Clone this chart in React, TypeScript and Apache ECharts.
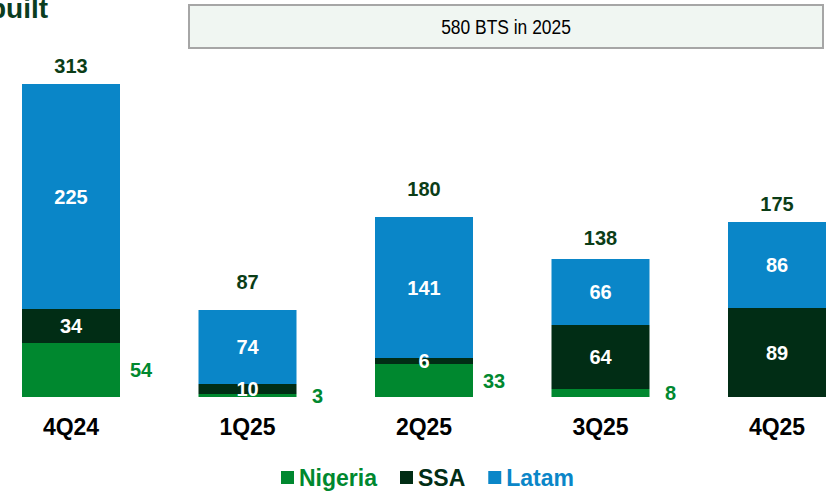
import React, { useEffect, useRef } from "react";
import * as echarts from "echarts";

const categories = ["4Q24", "1Q25", "2Q25", "3Q25", "4Q25"];
const nigeria = [54, 3, 33, 8, 0];
const ssa = [34, 10, 6, 64, 89];
const latam = [225, 74, 141, 66, 86];
const totals = [313, 87, 180, 138, 175];
const boxText = "580 BTS in 2025";
const titleText = "built";

// extra lift (px) of each total label above its bar, as placed in the reference
const totalLabelLift = [0, 10, 10, 3, 0];

const C_NIG = "#00882f";
const C_SSA = "#012d15";
const C_LAT = "#0a86c8";
const C_TOT = "#0b3d17";
const FONT = "'Liberation Sans', Arial, sans-serif";

export default function App() {
  const ref = useRef<HTMLDivElement>(null);
  useEffect(() => {
    if (!ref.current) return;
    const chart = echarts.init(ref.current, undefined, { renderer: "svg" });
    const BW = 98;
    const legendItem = (name: string, color: string) => ({
      name,
      textStyle: { color },
    });
    chart.setOption({
      animation: false,
      backgroundColor: "#ffffff",
      textStyle: { fontFamily: FONT },
      grid: { left: 71, right: 49, top: 57, bottom: 96 },
      xAxis: {
        type: "category",
        data: categories,
        boundaryGap: false,
        axisLine: { show: false },
        axisTick: { show: false },
        axisLabel: {
          margin: 18,
          fontSize: 23,
          fontWeight: "bold",
          color: "#000",
          fontFamily: FONT,
        },
      },
      yAxis: {
        type: "value",
        min: 0,
        max: 340,
        show: false,
        splitLine: { show: false },
      },
      legend: {
        top: 461,
        left: 276,
        itemWidth: 13,
        itemHeight: 13,
        itemGap: 23,
        icon: "rect",
        data: [
          legendItem("Nigeria", C_NIG),
          legendItem("SSA", C_SSA),
          legendItem("Latam", C_LAT),
        ],
        textStyle: {
          fontSize: 23,
          fontWeight: "bold",
          fontFamily: FONT,
        },
      },
      series: [
        {
          name: "Nigeria",
          type: "bar",
          stack: "s",
          barWidth: BW,
          data: nigeria,
          itemStyle: { color: C_NIG },
          label: {
            show: true,
            position: "right",
            distance: 21,
            align: "center",
            color: C_NIG,
            fontSize: 20,
            fontWeight: "bold",
            fontFamily: FONT,
            formatter: (p: any) => (p.value ? String(p.value) : ""),
          },
        },
        {
          name: "SSA",
          type: "bar",
          stack: "s",
          barWidth: BW,
          data: ssa,
          itemStyle: { color: C_SSA },
          label: {
            show: true,
            position: "inside",
            color: "#fff",
            fontSize: 20,
            fontWeight: "bold",
            fontFamily: FONT,
          },
        },
        {
          name: "Latam",
          type: "bar",
          stack: "s",
          barWidth: BW,
          data: latam,
          itemStyle: { color: C_LAT },
          label: {
            show: true,
            position: "inside",
            color: "#fff",
            fontSize: 20,
            fontWeight: "bold",
            fontFamily: FONT,
          },
        },
        {
          name: "Total",
          type: "bar",
          barWidth: BW,
          barGap: "-100%",
          data: totals.map((v, i) => ({
            value: v,
            label: { distance: 8 + totalLabelLift[i] },
          })),
          silent: true,
          itemStyle: { color: "rgba(0,0,0,0)" },
          label: {
            show: true,
            position: "top",
            distance: 8,
            color: C_TOT,
            fontSize: 20,
            fontWeight: "bold",
            fontFamily: FONT,
          },
        },
      ],
      graphic: [
        {
          type: "text",
          left: -11,
          top: -6,
          style: {
            text: titleText,
            fill: "#0b3d1f",
            font: `bold 28px ${FONT}`,
          },
        },
        {
          type: "rect",
          shape: { x: 189, y: 5, width: 634, height: 43 },
          style: { fill: "#f0f6f2", stroke: "#a6a6a6", lineWidth: 2 },
        },
        {
          type: "text",
          x: 506,
          y: 27,
          scaleX: 0.83,
          style: {
            text: boxText,
            fill: "#000",
            font: `21px ${FONT}`,
            align: "center",
            verticalAlign: "middle",
          },
        },
      ],
    });
    return () => chart.dispose();
  }, []);
  return (
    <div
      ref={ref}
      style={{ position: "fixed", left: 0, top: 0, width: 826, height: 493 }}
    />
  );
}
